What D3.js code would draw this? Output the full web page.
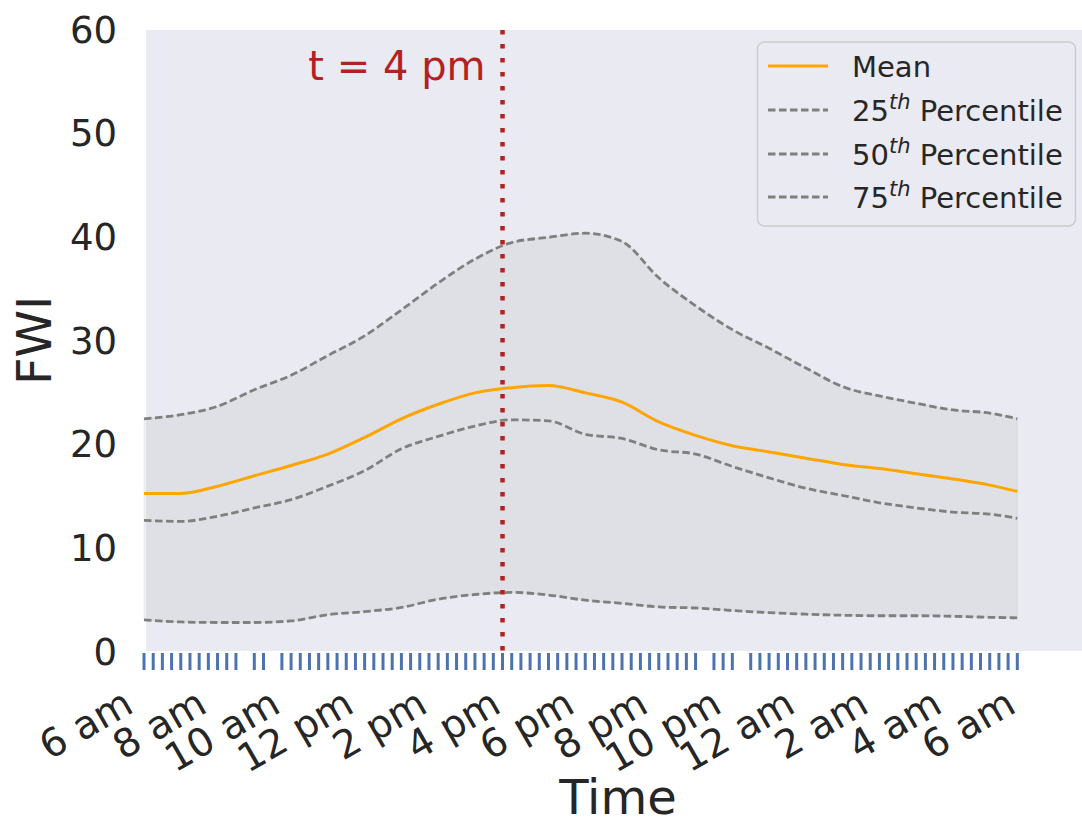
<!DOCTYPE html>
<html><head><meta charset="utf-8">
<script src="https://cdn.jsdelivr.net/npm/d3@7"></script>
<style>
html,body{margin:0;padding:0;background:#fff;}
svg{display:block;font-family:"DejaVu Sans",sans-serif;}
</style></head>
<body><svg id="c" width="1082" height="826"></svg>
<script>
// ---- data ----
const timeIndex = [0,4,8,12,16,20,24,28,32,36,40,44,48,52,56,60,64,68,72,76,80,84,88,92,95]; // 15-min steps from 6 am
const meanFWI = [15.2,15.2,15.9,16.9,17.9,19.0,20.6,22.4,23.8,24.9,25.4,25.6,24.9,24.0,22.1,20.8,19.8,19.2,18.6,18.0,17.6,17.1,16.6,16.0,15.4];
const p25FWI  = [3.0,2.8,2.75,2.75,2.9,3.5,3.8,4.2,5.0,5.45,5.65,5.4,4.9,4.6,4.25,4.15,3.9,3.7,3.55,3.45,3.4,3.4,3.35,3.25,3.2];
const p50FWI  = [12.6,12.5,13.0,13.8,14.6,15.9,17.4,19.5,20.7,21.7,22.3,22.2,20.9,20.5,19.4,19.0,17.8,16.7,15.7,15.0,14.3,13.8,13.4,13.2,12.8];
const p75FWI  = [22.4,22.8,23.6,25.2,26.6,28.5,30.4,32.9,35.5,37.8,39.4,39.9,40.3,39.5,36.0,33.3,31.0,29.2,27.3,25.5,24.6,23.9,23.25,22.95,22.4];
const rugIndex = [0,1,2,3,4,5,6,7,8,9,10,12,13,15,16,17,18,19,20,21,22,23,24,25,26,27,28,29,30,31,32,33,34,35,36,37,38,39,40,41,42,43,44,45,46,47,48,49,50,51,52,53,54,55,56,57,58,59,60,62,63,64,66,67,68,69,70,71,72,73,74,75,76,77,78,79,80,81,82,83,84,85,86,87,88,89,90,91,92,93,94,95];
const xTickIndex = [-1,7,15,23,31,39,47,55,63,71,79,87,95];
const xTickLabels = ["6 am","8 am","10 am","12 pm","2 pm","4 pm","6 pm","8 pm","10 pm","12 am","2 am","4 am","6 am"];
const yTicks = [0,10,20,30,40,50,60];
const markerIndex = 39;
const markerLabel = "t = 4 pm";
const legendItems = [
  {label:"Mean", sup:null, kind:"mean"},
  {label:"25", sup:"th", rest:" Percentile", kind:"pct"},
  {label:"50", sup:"th", rest:" Percentile", kind:"pct"},
  {label:"75", sup:"th", rest:" Percentile", kind:"pct"}
];

// ---- layout ----
const L=146, T=30, R=1090, B=651;
const svg = d3.select("#c");
const x = d3.scaleLinear().domain([0,95]).range([144,1017.3]);
const y = d3.scaleLinear().domain([0,60]).range([651,29]);
const txt = "#262626";

svg.append("rect").attr("x",L).attr("y",T).attr("width",R-L).attr("height",B-T).attr("fill","#eaeaf2");

const rows = timeIndex.map((t,i)=>({t, m:meanFWI[i], a:p25FWI[i], b:p50FWI[i], c:p75FWI[i]}));
const cv = d3.curveMonotoneX;

svg.append("path").datum(rows)
  .attr("d", d3.area().x(d=>x(d.t)).y0(d=>y(d.a)).y1(d=>y(d.c)).curve(cv))
  .attr("fill","#808080").attr("fill-opacity",0.1)
  .attr("stroke","#808080").attr("stroke-opacity",0.1).attr("stroke-width",1);

const dash = "7.5 3.5";
["a","b","c"].forEach(k=>{
  svg.append("path").datum(rows)
    .attr("d", d3.line().x(d=>x(d.t)).y(d=>y(d[k])).curve(cv))
    .attr("fill","none").attr("stroke","#7f7f7f").attr("stroke-width",2.8)
    .attr("stroke-dasharray",dash);
});
svg.append("path").datum(rows)
  .attr("d", d3.line().x(d=>x(d.t)).y(d=>y(d.m)).curve(cv))
  .attr("fill","none").attr("stroke","#ffa500").attr("stroke-width",3);

// marker line
svg.append("line").attr("x1",x(markerIndex)).attr("x2",x(markerIndex))
  .attr("y1",T).attr("y2",B)
  .attr("stroke","#b22222").attr("stroke-width",4.5).attr("stroke-dasharray","4.5 9.5");
svg.append("text").attr("x",x(markerIndex)-17).attr("y",80)
  .attr("text-anchor","end").attr("fill","#b22222").attr("font-size",40).text(markerLabel);

// rug
svg.append("g").selectAll("line").data(rugIndex).join("line")
  .attr("x1",d=>x(d)).attr("x2",d=>x(d)).attr("y1",653).attr("y2",670)
  .attr("stroke","#4c72b0").attr("stroke-width",3);

// y axis
const ya = svg.append("g").attr("transform",`translate(${L-29},0)`)
  .call(d3.axisLeft(y).tickValues(yTicks).tickSize(0).tickPadding(0).tickFormat(d3.format("d")));
ya.select(".domain").remove();
ya.selectAll("text").attr("font-size",37).attr("fill",txt).attr("font-family","DejaVu Sans").attr("dy","0.36em");

// x axis
const xa = svg.append("g").attr("transform",`translate(0,711)`)
  .call(d3.axisBottom(x).tickValues(xTickIndex).tickSize(0).tickFormat((d,i)=>xTickLabels[i]));
xa.select(".domain").remove();
xa.selectAll("text").attr("font-size",39).attr("fill",txt).attr("font-family","DejaVu Sans")
  .attr("y",0).attr("dy",0).attr("text-anchor","end").attr("transform","rotate(-30)");

// axis labels
svg.append("text").attr("x",(L+R)/2).attr("y",814).attr("text-anchor","middle")
  .attr("font-size",48).attr("fill",txt).text("Time");
svg.append("text").attr("transform",`translate(51,${(T+B)/2}) rotate(-90)`).attr("text-anchor","middle")
  .attr("font-size",48).attr("fill",txt).text("FWI");

// legend
const lg = svg.append("g");
lg.append("rect").attr("x",757.5).attr("y",42).attr("width",318).attr("height",184).attr("rx",7)
  .attr("fill","#eaeaf2").attr("fill-opacity",0.8).attr("stroke","#cccccc").attr("stroke-width",1.5);
const rowY = [66,110,154,197];
legendItems.forEach((it,i)=>{
  const yy = rowY[i];
  const ln = lg.append("line").attr("x1",768).attr("x2",828).attr("y1",yy).attr("y2",yy);
  if(it.kind==="mean") ln.attr("stroke","#ffa500").attr("stroke-width",3);
  else ln.attr("stroke","#7f7f7f").attr("stroke-width",2.8).attr("stroke-dasharray",dash);
  const t = lg.append("text").attr("x",852).attr("y",yy+10.5).attr("font-size",29).attr("fill",txt);
  t.append("tspan").text(it.label);
  if(it.sup){
    t.append("tspan").attr("font-size",21).attr("font-style","italic").attr("dy",-12).text(it.sup);
    t.append("tspan").attr("dy",12).text(it.rest);
  }
});
</script></body></html>
